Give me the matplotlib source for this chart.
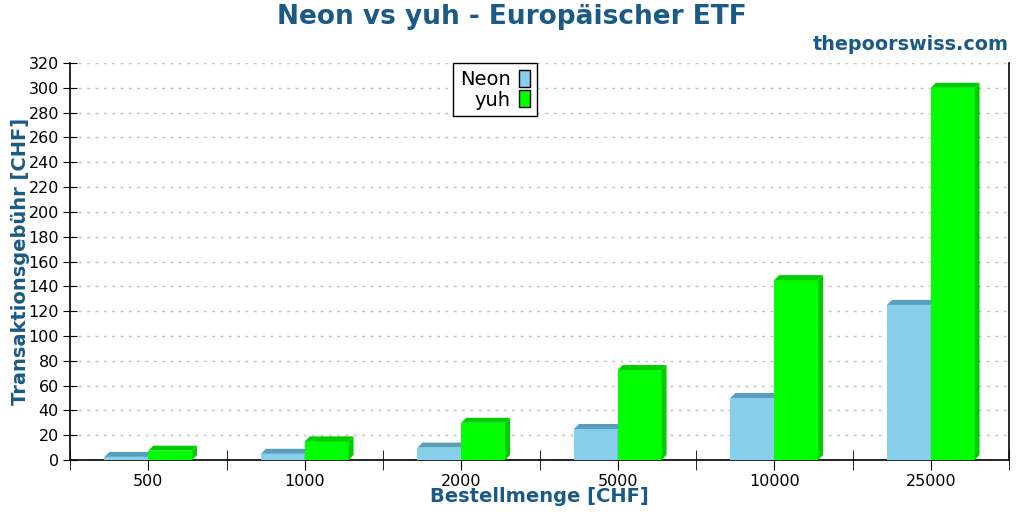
import matplotlib
matplotlib.use('Agg')
import matplotlib.pyplot as plt
from matplotlib.patches import Polygon, Rectangle

categories = ['500', '1000', '2000', '5000', '10000', '25000']
neon = [2.5, 5, 10, 25, 50, 125]
yuh = [7.5, 15, 30, 72.5, 145, 300]

blue = '#1b5a86'
fig = plt.figure(figsize=(10.24, 5.12), dpi=100)
ax = fig.add_axes([70 / 1024, 52 / 512, 939 / 1024, 397 / 512])

ax.set_xlim(-0.5, len(categories) - 0.5)
ax.set_ylim(0, 320)

# 3d look: depth in pixels converted to data units
depth = 5
dx = depth * len(categories) / 939
dy = depth * 320 / 397
width = 0.28


def bar3d(x0, h, front, top):
    ax.add_patch(Rectangle((x0, 0), width, h, facecolor=front, edgecolor='none', zorder=3))
    ax.add_patch(Polygon([(x0, h), (x0 + width, h), (x0 + width + dx, h + dy), (x0 + dx, h + dy)],
                         closed=True, facecolor=top, edgecolor='none', zorder=3))
    ax.add_patch(Polygon([(x0 + width, 0), (x0 + width, h), (x0 + width + dx, h + dy), (x0 + width + dx, dy)],
                         closed=True, facecolor=top, edgecolor='none', zorder=3))


for i in range(len(categories)):
    bar3d(i - width, neon[i], '#87ceeb', '#589fbd')
    bar3d(i, yuh[i], '#00ff00', '#00cc00')

ax.set_yticks(range(0, 321, 20))
ax.set_xticks(range(len(categories)))
ax.set_xticklabels(categories)
ax.set_xticks([i - 0.5 for i in range(len(categories) + 1)], minor=True)
ax.tick_params(axis='x', which='major', direction='out', length=7, labelsize=11.5, pad=3)
ax.tick_params(axis='x', which='minor', direction='inout', length=14)
ax.tick_params(axis='y', direction='inout', length=10, labelsize=11.5, pad=3)

ax.grid(axis='y', color='#c0c0c0', linestyle=(0, (2, 4)), linewidth=1)
ax.set_axisbelow(True)
ax.spines['top'].set_visible(False)
for s in ['left', 'right', 'bottom']:
    ax.spines[s].set_linewidth(1.2)

ax.set_xlabel('Bestellmenge [CHF]', fontsize=14, fontweight='bold', color=blue, labelpad=-1)
ax.set_ylabel('Transaktionsgebühr [CHF]', fontsize=14, fontweight='bold', color=blue, labelpad=-1)

fig.text(0.5, 1 - 17 / 512, 'Neon vs yuh - Europäischer ETF', ha='center', va='center',
         fontsize=19, fontweight='bold', color=blue)
fig.text(1009 / 1024, 1 - 45 / 512, 'thepoorswiss.com', ha='right', va='center',
         fontsize=13.8, fontweight='bold', color=blue)

handles = [Rectangle((0, 0), 1, 1, facecolor='#87ceeb', edgecolor='black'),
           Rectangle((0, 0), 1, 1, facecolor='#00ff00', edgecolor='black')]
leg = ax.legend(handles, ['Neon', 'yuh'], loc='upper center', bbox_to_anchor=(0.4526, 1.0),
                borderaxespad=0, markerfirst=False, fancybox=False, framealpha=1,
                edgecolor='black', fontsize=14, handlelength=0.55, handleheight=0.95,
                handletextpad=0.45, labelspacing=0.08, borderpad=0.35)
leg.get_frame().set_linewidth(1)

fig.savefig('out.png', dpi=100)
